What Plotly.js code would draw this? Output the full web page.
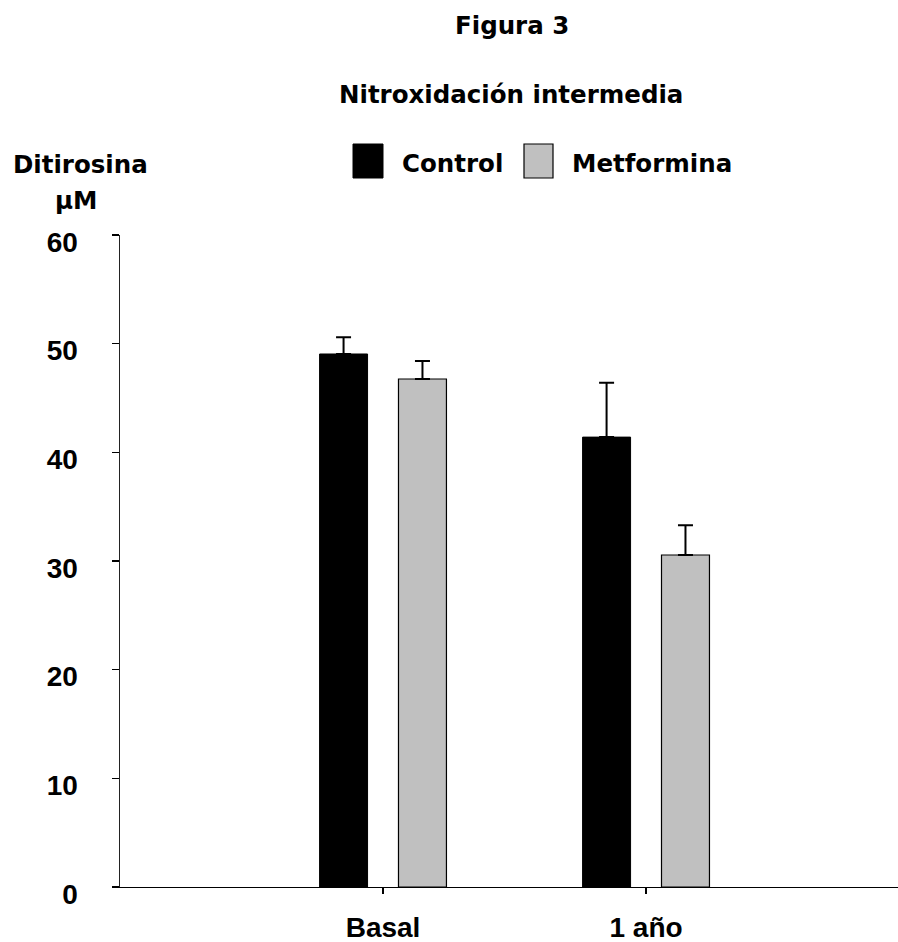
<!DOCTYPE html>
<html>
<head>
<meta charset="utf-8">
<script src="https://cdn.plot.ly/plotly-3.0.1.min.js"></script>
<style>html,body{margin:0;padding:0;background:#fff;}#chart{width:898px;height:942px;}</style>
</head>
<body>
<div id="chart"></div>
<script>
// ---- data ----
var categories = ["Basal", "1 año"];
var seriesNames = ["Control", "Metformina"];
var controlValues = [49.05, 41.4];
var controlErrors = [1.55, 5.0];
var metforminaValues = [46.75, 30.55];
var metforminaErrors = [1.65, 2.75];
var yTickValues = [0, 10, 20, 30, 40, 50, 60];
var yTickLabels = ["0", "10", "20", "30", "40", "50", "60"];
var chartTitle = "Figura 3";
var chartSubtitle = "Nitroxidación intermedia";
var yTitleLine1 = "Ditirosina";
var yTitleLine2 = "μM";

// ---- layout helpers (pixel -> paper) ----
var W = 898, H = 942;
var mL = 120, mR = 0, mT = 235, mB = 55;
var pw = W - mL - mR, ph = H - mT - mB;
function px(x) { return (x - mL) / pw; }
function py(y) { return (H - mB - y) / ph; }

var bigFont = {family: "DejaVu Sans", size: 24.5, color: "#000", weight: "bold"};
var tickFont = {family: "Liberation Sans, Arial", size: 28, color: "#000", weight: "bold"};

var traces = [
  {
    type: "bar", name: seriesNames[0], x: categories, y: controlValues,
    marker: {color: "#000000", line: {color: "#000000", width: 1}},
    error_y: {type: "data", array: controlErrors, symmetric: false, arrayminus: [0, 0],
              color: "#000000", thickness: 2, width: 7.5},
    showlegend: false
  },
  {
    type: "bar", name: seriesNames[1], x: categories, y: metforminaValues,
    marker: {color: "#c0c0c0", line: {color: "#000000", width: 1.2}},
    error_y: {type: "data", array: metforminaErrors, symmetric: false, arrayminus: [0, 0],
              color: "#000000", thickness: 2, width: 7.5},
    showlegend: false
  }
];

var layout = {
  width: W, height: H,
  margin: {l: mL, r: mR, t: mT, b: mB, pad: 0},
  paper_bgcolor: "#ffffff", plot_bgcolor: "#ffffff",
  barmode: "group", bargap: 0.4, bargroupgap: 0.392,
  showlegend: false,
  xaxis: {
    type: "category", range: [-1, 1.958], showgrid: false, zeroline: false,
    showline: true, linecolor: "#000", linewidth: 1.3,
    ticks: "outside", ticklen: 6, tickwidth: 1.3, tickcolor: "#000",
    tickfont: tickFont, ticklabelstandoff: 9
  },
  yaxis: {
    range: [0, 60], tickvals: yTickValues, ticktext: yTickLabels,
    showgrid: false, zeroline: false,
    showline: true, linecolor: "#222", linewidth: 1.5,
    ticks: "outside", ticklen: 7, tickwidth: 1.3, tickcolor: "#000",
    tickfont: tickFont, ticklabelstandoff: 28, ticklabelshift: 7
  },
  annotations: [
    {text: chartTitle, xref: "paper", yref: "paper", x: px(512), y: py(25), xanchor: "center", yanchor: "middle", showarrow: false, font: bigFont},
    {text: chartSubtitle, xref: "paper", yref: "paper", x: px(511), y: py(95), xanchor: "center", yanchor: "middle", showarrow: false, font: bigFont},
    {text: yTitleLine1, xref: "paper", yref: "paper", x: px(80), y: py(164), xanchor: "center", yanchor: "middle", showarrow: false, font: bigFont},
    {text: yTitleLine2, xref: "paper", yref: "paper", x: px(76), y: py(200), xanchor: "center", yanchor: "middle", showarrow: false, font: bigFont},
    {text: seriesNames[0], xref: "paper", yref: "paper", x: px(400), y: py(163), xanchor: "left", yanchor: "middle", showarrow: false, font: bigFont},
    {text: seriesNames[1], xref: "paper", yref: "paper", x: px(570), y: py(163), xanchor: "left", yanchor: "middle", showarrow: false, font: bigFont}
  ],
  shapes: [
    {type: "rect", xref: "paper", yref: "paper", x0: px(353), x1: px(383), y0: py(178), y1: py(144),
     fillcolor: "#000000", line: {color: "#000000", width: 1}},
    {type: "rect", xref: "paper", yref: "paper", x0: px(524), x1: px(553), y0: py(178), y1: py(144),
     fillcolor: "#c0c0c0", line: {color: "#000000", width: 1.2}}
  ]
};

Plotly.newPlot("chart", traces, layout, {displayModeBar: false, staticPlot: true});
</script>
</body>
</html>
